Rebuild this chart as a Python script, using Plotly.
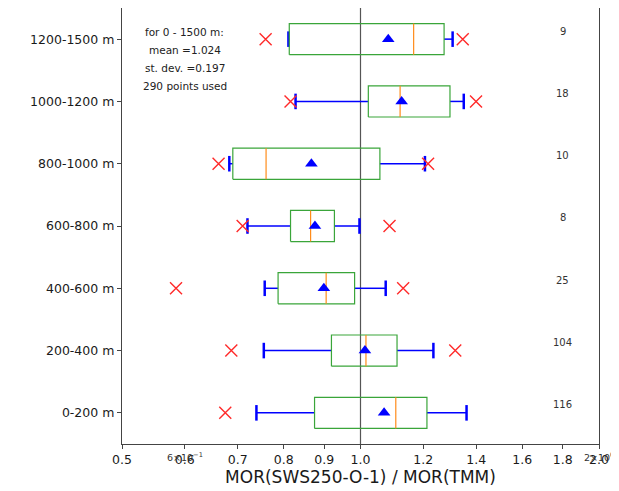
import math
import plotly.graph_objects as go

categories = ["0-200 m", "200-400 m", "400-600 m", "600-800 m",
              "800-1000 m", "1000-1200 m", "1200-1500 m"]
counts = [116, 104, 25, 8, 10, 18, 9]
x_min = [0.675, 0.687, 0.585, 0.710, 0.662, 0.816, 0.759]
whisk_lo = [0.739, 0.755, 0.757, 0.720, 0.683, 0.828, 0.811]
q1 = [0.875, 0.919, 0.787, 0.816, 0.690, 1.023, 0.813]
median = [1.108, 1.016, 0.905, 0.865, 0.760, 1.122, 1.167]
mean = [1.071, 1.013, 0.899, 0.876, 0.867, 1.127, 1.084]
q3 = [1.213, 1.112, 0.983, 0.927, 1.058, 1.297, 1.275]
whisk_hi = [1.361, 1.236, 1.076, 0.997, 1.206, 1.350, 1.307]
x_max = [None, 1.317, 1.132, 1.088, 1.217, 1.399, 1.346]

x_tickvals = [0.5, 0.6, 0.7, 0.8, 0.9, 1.0, 1.2, 1.4, 1.6, 1.8, 2.0]
x_ticktext = ["0.5", "0.6", "0.7", "0.8", "0.9", "1.0", "1.2", "1.4", "1.6", "1.8", "2.0"]
summary_lines = ["for 0 - 1500 m:", "mean =1.024", "st. dev. =0.197", "290 points used"]
count_x = 1.8
summary_x = 0.6

FONT = "DejaVu Sans"
HW = 0.25   # half box height
CW = 0.125  # half cap height

ys = list(range(len(categories)))

box_x, box_y, med_x, med_y = [], [], [], []
wh_x, wh_y, cap_x, cap_y = [], [], [], []
for i, y in enumerate(ys):
    box_x += [q1[i], q3[i], q3[i], q1[i], q1[i], None]
    box_y += [y - HW, y - HW, y + HW, y + HW, y - HW, None]
    med_x += [median[i], median[i], None]
    med_y += [y - HW, y + HW, None]
    wh_x += [whisk_lo[i], q1[i], None, q3[i], whisk_hi[i], None]
    wh_y += [y, y, None, y, y, None]
    cap_x += [whisk_lo[i], whisk_lo[i], None, whisk_hi[i], whisk_hi[i], None]
    cap_y += [y - CW, y + CW, None, y - CW, y + CW, None]

ext_x, ext_y = [], []
for i, y in enumerate(ys):
    for v in (x_min[i], x_max[i]):
        if v is not None:
            ext_x.append(v)
            ext_y.append(y)

fig = go.Figure()
fig.add_trace(go.Scatter(x=[1.0, 1.0], y=[-0.5, len(categories) - 0.5], mode="lines",
                         line=dict(color="#555555", width=1.2), hoverinfo="skip"))
fig.add_trace(go.Scatter(x=wh_x, y=wh_y, mode="lines", line=dict(color="#0000ff", width=1.5)))
fig.add_trace(go.Scatter(x=cap_x, y=cap_y, mode="lines", line=dict(color="#0000ff", width=2.5)))
fig.add_trace(go.Scatter(x=box_x, y=box_y, mode="lines", line=dict(color="#3aa53a", width=1.2)))
fig.add_trace(go.Scatter(x=med_x, y=med_y, mode="lines", line=dict(color="#ff8c1a", width=1.2)))
fig.add_trace(go.Scatter(x=mean, y=ys, mode="markers",
                         marker=dict(symbol="triangle-up", size=11, color="#0000ff")))
fig.add_trace(go.Scatter(x=ext_x, y=ext_y, mode="markers",
                         marker=dict(symbol="x-thin", size=12,
                                     line=dict(color="#ff2a2a", width=1.4))))

annotations = []
for i, y in enumerate(ys):
    annotations.append(dict(x=math.log10(count_x), y=y + 0.13, xref="x", yref="y",
                            text=str(counts[i]), showarrow=False, yanchor="middle",
                            font=dict(family=FONT, size=10, color="#333333")))
para_y = [0.945, 0.904, 0.862, 0.821]
for t, py in zip(summary_lines, para_y):
    annotations.append(dict(x=math.log10(summary_x), y=py, xref="x", yref="paper", text=t,
                            showarrow=False, yanchor="middle",
                            font=dict(family=FONT, size=10.5, color="#222222")))
annotations.append(dict(x=math.log10(0.6), y=-0.012, xref="x", yref="paper",
                        text="6×10<sup>−1</sup>", showarrow=False, yanchor="top",
                        font=dict(family=FONT, size=9.5, color="#333333")))
annotations.append(dict(x=math.log10(2.0), y=-0.012, xref="x", yref="paper",
                        text="2×10<sup>0</sup>", showarrow=False, yanchor="top",
                        font=dict(family=FONT, size=9.5, color="#333333")))

fig.update_layout(
    width=611, height=483,
    margin=dict(l=114, r=20, t=0, b=47),
    paper_bgcolor="white", plot_bgcolor="white",
    showlegend=False,
    font=dict(family=FONT, size=12, color="#1a1a1a"),
    annotations=annotations,
    xaxis=dict(type="log", range=[math.log10(0.5), math.log10(2.0)],
               tickvals=x_tickvals, ticktext=x_ticktext,
               showgrid=False, zeroline=False, showline=True, linecolor="#444444", linewidth=1.2,
               mirror=True, ticks="outside", ticklen=4, tickcolor="#444444",
               tickfont=dict(size=12.5),
               title=dict(text="MOR(SWS250-O-1) / MOR(TMM)", font=dict(size=17), standoff=4)),
    yaxis=dict(range=[-0.5, len(categories) - 0.5], tickvals=ys, ticktext=categories,
               showgrid=False, zeroline=False, showline=True, linecolor="#444444", linewidth=1.2,
               mirror=True, ticks="outside", ticklen=4, tickcolor="#444444",
               tickfont=dict(size=12.5)),
)

fig.write_html("out.html")
